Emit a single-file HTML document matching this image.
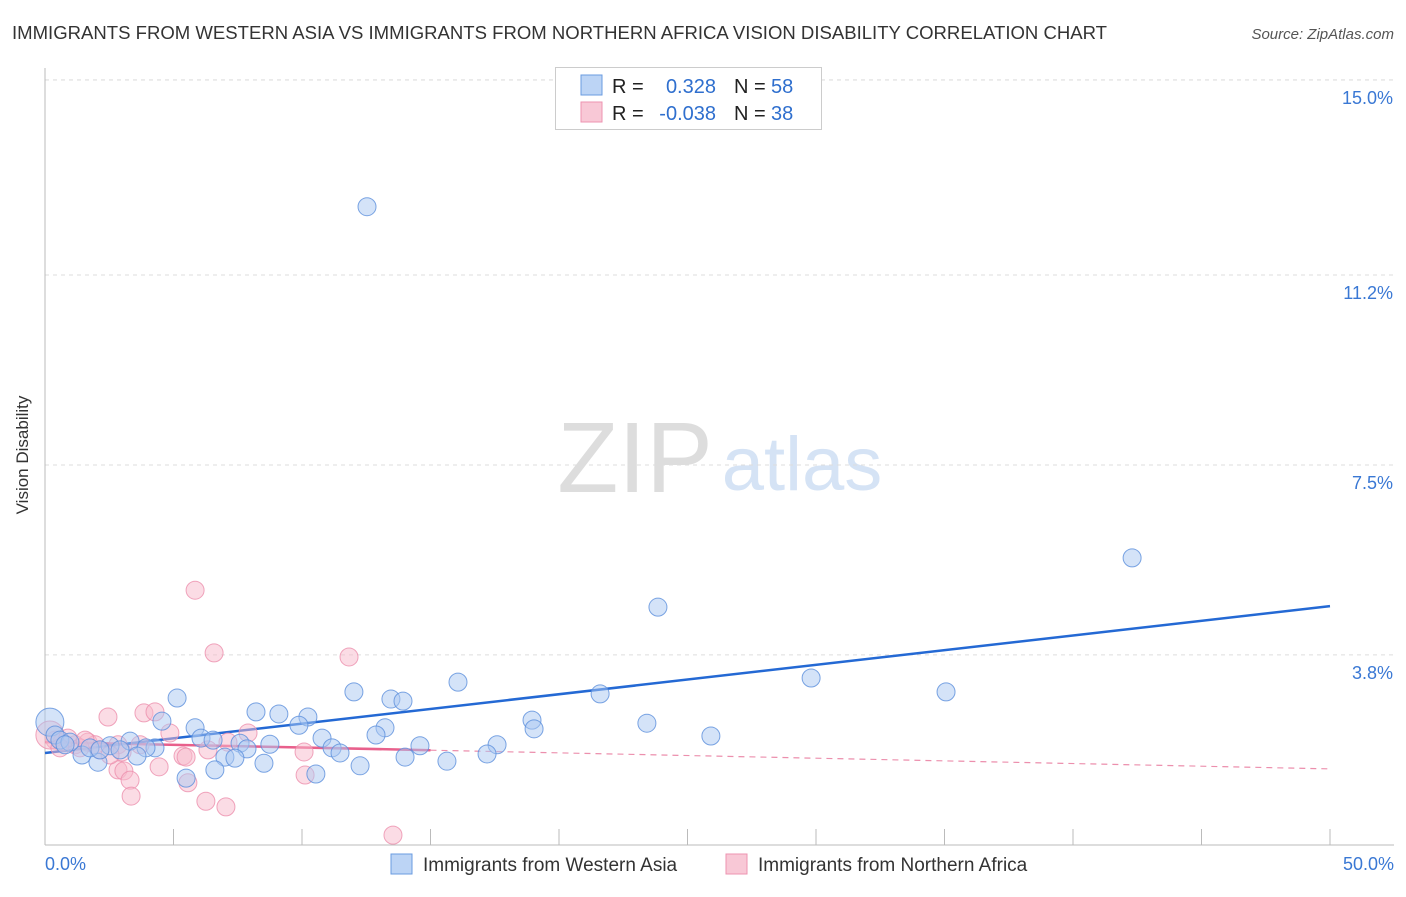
<!DOCTYPE html>
<html><head><meta charset="utf-8"><style>
body{margin:0;background:#fff;font-family:"Liberation Sans",sans-serif;}
svg text{font-family:"Liberation Sans",sans-serif;}
</style></head><body>
<svg id="chart" width="1406" height="892">
<text x="12" y="39" font-size="18" fill="#333" textLength="1095" lengthAdjust="spacingAndGlyphs">IMMIGRANTS FROM WESTERN ASIA VS IMMIGRANTS FROM NORTHERN AFRICA VISION DISABILITY CORRELATION CHART</text>
<text x="1394" y="39" font-size="15" fill="#555" text-anchor="end" font-style="italic">Source: ZipAtlas.com</text>
<text x="28" y="455" font-size="17" fill="#333" text-anchor="middle" transform="rotate(-90 28 455)">Vision Disability</text>
<g><text x="635" y="492" font-size="100" fill="#ddd" text-anchor="middle" font-family="Liberation Serif">ZIP</text><text x="802" y="490" font-size="76" fill="#d5e3f5" text-anchor="middle">atlas</text></g>
<g id="grid"></g><g id="axes"></g><g id="trends"></g><g id="points"></g>
<g>
<rect x="555.5" y="67.5" width="266" height="62" fill="#fff" stroke="#ccc"/>
<rect x="581" y="75" width="21" height="20" fill="#bcd4f5" stroke="#6a9be0"/>
<rect x="581" y="102" width="21" height="20" fill="#f8c8d6" stroke="#ee93b0"/>
<text x="612" y="93" font-size="20" fill="#222">R =</text><text x="716" y="93" font-size="20" fill="#2f6fce" text-anchor="end">0.328</text>
<text x="734" y="93" font-size="20" fill="#222">N =</text><text x="771" y="93" font-size="20" fill="#2f6fce">58</text>
<text x="612" y="120" font-size="20" fill="#222">R =</text><text x="716" y="120" font-size="20" fill="#2f6fce" text-anchor="end">-0.038</text>
<text x="734" y="120" font-size="20" fill="#222">N =</text><text x="771" y="120" font-size="20" fill="#2f6fce">38</text>
</g>
<g>
<rect x="391" y="854" width="21" height="20" fill="#bcd4f5" stroke="#6a9be0"/>
<text x="423" y="871" font-size="19" fill="#333">Immigrants from Western Asia</text>
<rect x="726" y="854" width="21" height="20" fill="#f8c8d6" stroke="#ee93b0"/>
<text x="758" y="871" font-size="19" fill="#333">Immigrants from Northern Africa</text>
</g>
</svg>
<script>
const yTicks=[15,11.2,7.5,3.8];
const yTickLabels=["15.0%","11.2%","7.5%","3.8%"];
const xTicks=[5,10,15,20,25,30,35,40,45,50];
const blueX=[12.53,42.30,23.85,29.81,35.06,21.60,16.07,12.02,13.46,13.93,5.14,8.21,9.10,10.23,18.95,19.03,23.42,25.91,4.55,5.84,9.88,13.23,12.88,10.78,6.07,6.54,3.31,7.59,8.75,4.28,3.93,2.53,2.92,11.17,11.48,7.86,14.59,17.59,17.20,14.01,15.64,7.00,7.39,8.52,3.58,1.44,2.06,12.26,10.54,5.49,6.61,0.19,0.39,0.58,0.97,1.75,2.14,0.78];
const blueY=[12.53,5.69,4.73,3.35,3.08,3.04,3.27,3.08,2.94,2.90,2.96,2.69,2.65,2.59,2.53,2.36,2.47,2.22,2.51,2.38,2.43,2.38,2.24,2.18,2.18,2.14,2.12,2.08,2.06,1.99,1.99,2.03,1.95,1.99,1.89,1.97,2.03,2.05,1.87,1.81,1.73,1.81,1.79,1.69,1.83,1.85,1.71,1.64,1.48,1.40,1.56,2.49,2.24,2.14,2.10,1.99,1.95,2.05];
const pinkX=[5.84,6.58,11.83,2.45,3.85,4.28,4.86,7.90,7.12,5.37,5.49,6.34,0.39,0.66,1.17,1.67,1.95,2.84,3.00,2.84,3.07,4.44,3.31,3.35,5.56,6.26,7.04,10.08,10.12,13.54,0.19,0.89,1.36,2.14,3.70,2.53,0.58,1.56];
const pinkY=[5.06,3.84,3.76,2.59,2.67,2.69,2.28,2.28,2.10,1.83,1.81,1.95,2.14,2.10,2.05,2.10,2.05,2.05,1.91,1.56,1.54,1.62,1.36,1.05,1.31,0.95,0.84,1.91,1.46,0.29,2.24,2.18,1.99,1.95,2.05,1.85,1.99,2.14];
const blueTrend=[1.89,4.75];
const pinkTrend=[2.10,1.58];
const pinkSolidEnd=15;
const NS="http://www.w3.org/2000/svg";
const X=v=>45+v/50*1285, Y=v=>850-v*51.34;
function mk(t,a,p){const e=document.createElementNS(NS,t);for(const k in a)e.setAttribute(k,a[k]);p.appendChild(e);return e;}
const grid=document.getElementById('grid'),axes=document.getElementById('axes'),tr=document.getElementById('trends'),pts=document.getElementById('points');
yTicks.forEach((v,i)=>{
 const l=mk('line',{x1:45,x2:1394,y1:Y(v),y2:Y(v),stroke:'#ddd','stroke-dasharray':'4,4'},grid);
 
 
 const t=mk('text',{x:1393,y:Y(v)+24,'font-size':18,fill:'#3a78d4','text-anchor':'end'},axes);t.textContent=yTickLabels[i];
 
 
});
const topGrid=mk('line',{x1:45,x2:1394,y1:80,y2:80,stroke:'#ddd','stroke-dasharray':'4,4'},grid);


const ya=mk('line',{x1:45,x2:45,y1:68,y2:845,stroke:'#bbb'},axes);


const xa=mk('line',{x1:45,x2:1394,y1:845,y2:845,stroke:'#bbb'},axes);


xTicks.forEach(v=>{const l=mk('line',{x1:X(v),x2:X(v),y1:829,y2:845,stroke:'#bbb'},axes);
 
 });
const xl=mk('text',{x:45,y:870,'font-size':18,fill:'#3a78d4'},axes);xl.textContent='0.0%';


const xr=mk('text',{x:1394,y:870,'font-size':18,fill:'#3a78d4','text-anchor':'end'},axes);xr.textContent='50.0%';


function dots(xs,ys,fill,stroke,name){xs.forEach((x,i)=>{const r=(x<0.3&&ys[i]>2.2)?14:9;
 const c=mk('circle',{cx:X(x),cy:Y(ys[i]),r:r,fill:fill,'fill-opacity':0.5,stroke:stroke,'stroke-opacity':0.8,'stroke-width':1},pts);
 
 });}
dots(pinkX,pinkY,'#f7b9cc','#ec8fad','point-northern-africa');
dots(blueX,blueY,'#aac8f2','#5b8fdc','point-western-asia');
const pAt=x=>pinkTrend[0]+(pinkTrend[1]-pinkTrend[0])*x/50;
const pd=mk('line',{x1:X(pinkSolidEnd),y1:Y(pAt(pinkSolidEnd)),x2:X(50),y2:Y(pinkTrend[1]),stroke:'#ec8fad','stroke-width':1.2,'stroke-dasharray':'6,5'},tr);


const ps=mk('line',{x1:X(0),y1:Y(pinkTrend[0]),x2:X(pinkSolidEnd),y2:Y(pAt(pinkSolidEnd)),stroke:'#e8608c','stroke-width':2.5},tr);


const bl=mk('line',{x1:X(0),y1:Y(blueTrend[0]),x2:X(50),y2:Y(blueTrend[1]),stroke:'#2469d4','stroke-width':2.5},tr);


</script>
</body></html>
